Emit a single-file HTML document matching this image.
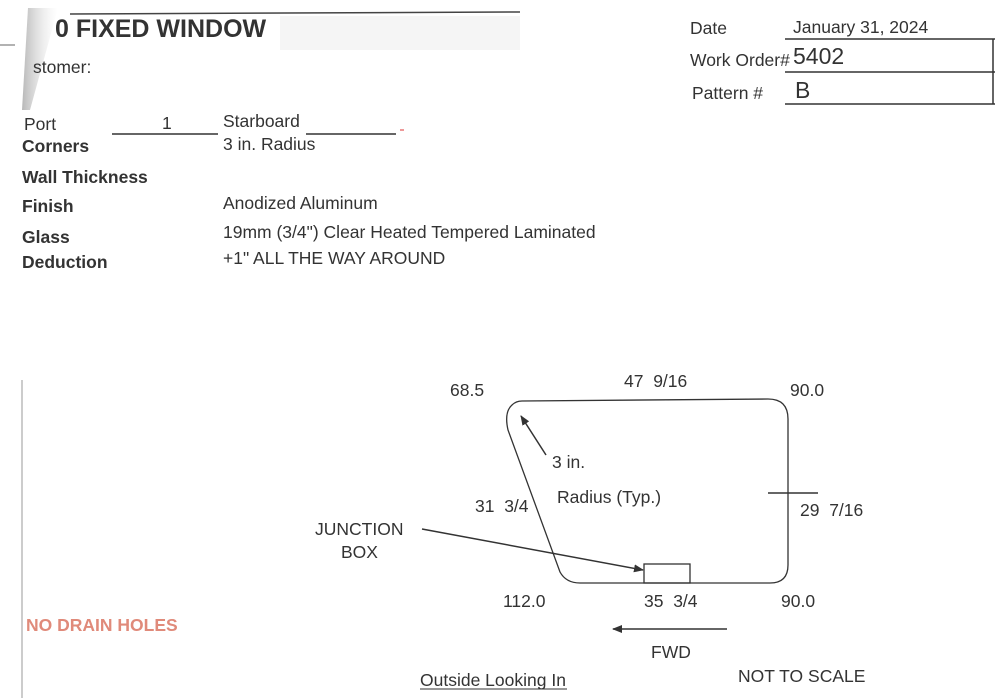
<!DOCTYPE html>
<html><head><style>
body{margin:0;width:1000px;height:698px;background:#fff;position:relative;overflow:hidden;font-family:"Liberation Sans",sans-serif;color:#333}
.t{position:absolute;white-space:nowrap;font-size:17.5px}
.b{font-weight:bold}
</style></head><body>
<svg width="1000" height="698" style="position:absolute;left:0;top:0">
<defs><marker id="a" markerWidth="10" markerHeight="8" refX="9" refY="4" orient="auto" markerUnits="userSpaceOnUse"><path d="M0,0 L10,4 L0,8 Z" fill="#333"/></marker>
<linearGradient id="g" x1="0" x2="1"><stop offset="0" stop-color="#999"/><stop offset="1" stop-color="#ddd" stop-opacity="0"/></linearGradient></defs>
<polygon points="28,8 58,8 30,110 22,110" fill="url(#g)" opacity="0.7"/>
<rect x="280" y="16" width="240" height="34" fill="#f5f5f5"/>
<line x1="70" y1="14" x2="520" y2="12" stroke="#444" stroke-width="1.5"/>
<line x1="0" y1="45" x2="15" y2="45" stroke="#666"/>
<line x1="22" y1="380" x2="22" y2="698" stroke="#999"/>
<g stroke="#333" stroke-width="1.5" fill="none">
<line x1="785" y1="39" x2="995" y2="39"/><line x1="785" y1="72" x2="995" y2="72"/><line x1="785" y1="104" x2="995" y2="104"/>
<line x1="993" y1="39" x2="993" y2="104"/>
<line x1="112" y1="134" x2="218" y2="134"/><line x1="306" y1="134" x2="396" y2="134"/>
<path d="M522,401 L768,399 Q788,399 788,419 L788,565 Q788,583 770,583 L580,583 Q566,583 560,572 L508,430 Q504,412 512,405 Q516,401 522,401 Z" stroke-width="1.3"/>
<rect x="644" y="564" width="46" height="19" stroke-width="1.3"/>
<line x1="768" y1="493" x2="818" y2="493"/>
<line x1="422" y1="529" x2="643" y2="570" marker-end="url(#a)"/>
<line x1="546" y1="455" x2="521" y2="416" marker-end="url(#a)"/>
<line x1="727" y1="629" x2="613" y2="629" marker-end="url(#a)"/>
<line x1="420" y1="689" x2="567" y2="689" stroke-width="1"/>
</g>
<line x1="400" y1="130" x2="404" y2="130" stroke="#d33"/>
</svg>
<div class="t b" style="left:55px;top:15px;font-size:25px">0 FIXED WINDOW</div>
<div class="t" style="left:33px;top:57px">stomer:</div>
<div class="t" style="left:24px;top:114px">Port</div>
<div class="t" style="left:162px;top:113px">1</div>
<div class="t" style="left:223px;top:111px">Starboard</div>
<div class="t b" style="left:22px;top:136px">Corners</div>
<div class="t" style="left:223px;top:134px">3 in. Radius</div>
<div class="t b" style="left:22px;top:167px">Wall Thickness</div>
<div class="t b" style="left:22px;top:196px">Finish</div>
<div class="t" style="left:223px;top:193px">Anodized Aluminum</div>
<div class="t b" style="left:22px;top:227px">Glass</div>
<div class="t" style="left:223px;top:222px">19mm (3/4") Clear Heated Tempered Laminated</div>
<div class="t b" style="left:22px;top:252px">Deduction</div>
<div class="t" style="left:223px;top:248px">+1" ALL THE WAY AROUND</div>
<div class="t" style="left:690px;top:18px">Date</div>
<div class="t" style="left:793px;top:17px">January 31, 2024</div>
<div class="t" style="left:690px;top:50px">Work Order#</div>
<div class="t" style="left:793px;top:43px;font-size:23px">5402</div>
<div class="t" style="left:692px;top:83px">Pattern #</div>
<div class="t" style="left:795px;top:77px;font-size:23px">B</div>
<div class="t" style="left:450px;top:380px">68.5</div>
<div class="t" style="left:624px;top:371px">47&nbsp; 9/16</div>
<div class="t" style="left:790px;top:380px">90.0</div>
<div class="t" style="left:552px;top:452px">3 in.</div>
<div class="t" style="left:557px;top:487px">Radius (Typ.)</div>
<div class="t" style="left:475px;top:496px">31&nbsp; 3/4</div>
<div class="t" style="left:800px;top:500px">29&nbsp; 7/16</div>
<div class="t" style="left:315px;top:519px">JUNCTION</div>
<div class="t" style="left:341px;top:542px">BOX</div>
<div class="t" style="left:503px;top:591px">112.0</div>
<div class="t" style="left:644px;top:591px">35&nbsp; 3/4</div>
<div class="t" style="left:781px;top:591px">90.0</div>
<div class="t b" style="left:26px;top:615px;color:#e08a7a">NO DRAIN HOLES</div>
<div class="t" style="left:651px;top:642px">FWD</div>
<div class="t" style="left:420px;top:670px">Outside Looking In</div>
<div class="t" style="left:738px;top:666px">NOT TO SCALE</div>
</body></html>
